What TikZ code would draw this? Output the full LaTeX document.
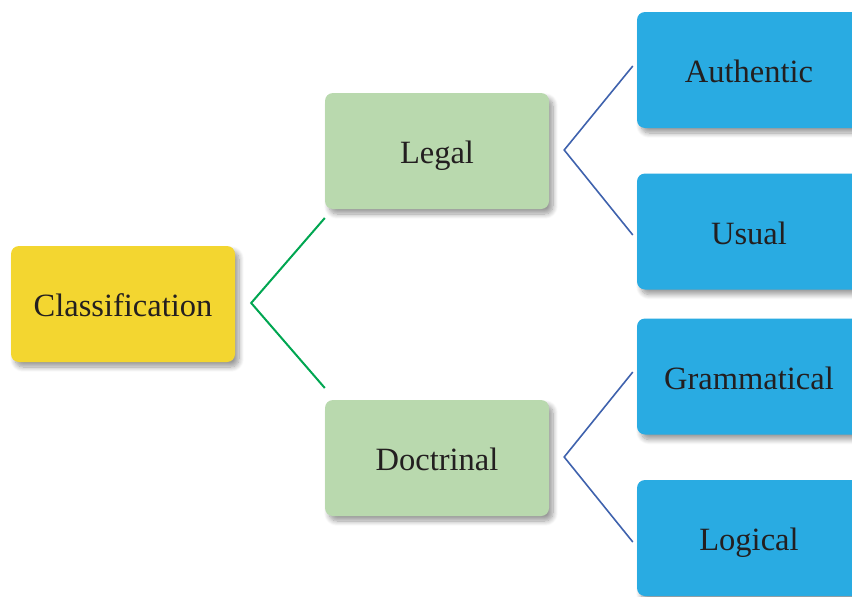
\documentclass[tikz,border=0pt]{standalone}
\usepackage{fontspec}
\setmainfont{Liberation Serif}
\usepackage{xcolor}
\usetikzlibrary{shapes,positioning,calc,shadows.blur}

\definecolor{clsyellow}{HTML}{F3D630}
\definecolor{kindgreen}{HTML}{B9D9AE}
\definecolor{leafblue}{HTML}{29ABE2}
\definecolor{forkgreen}{HTML}{00A651}
\definecolor{forkblue}{HTML}{3F62AD}
\definecolor{txtdark}{HTML}{231F20}

\begin{document}
\begin{tikzpicture}[x=1pt,y=1pt,
  item/.style={rectangle, rounded corners=8pt, minimum width=224pt, minimum height=116pt,
    inner sep=0pt, text=txtdark, font=\fontsize{32.5}{39}\selectfont,
    text height=25pt, text depth=0pt,
    blur shadow={shadow xshift=4pt, shadow yshift=-5pt, shadow blur radius=5pt, shadow blur steps=10, shadow opacity=40}},
  greenfork/.style={draw=forkgreen, line width=2pt},
  bluefork/.style={draw=forkblue, line width=1.6pt}]
\useasboundingbox (0,0) rectangle (852,-597);
\clip (0,0) rectangle (852,-597);
\node[item, fill=clsyellow] (cls) at (123,-304) {Classification};
\node[item, fill=kindgreen, right of=cls, node distance=314pt, yshift=153pt] (leg) {Legal};
\node[item, fill=kindgreen, right of=cls, node distance=314pt, yshift=-154pt] (doc) {Doctrinal};
\node[item, fill=leafblue, right of=leg, node distance=312pt, yshift=81pt] (auth) {Authentic};
\node[item, fill=leafblue, right of=leg, node distance=312pt, yshift=-80.5pt] (usu) {Usual};
\node[item, fill=leafblue, right of=doc, node distance=312pt, yshift=81.5pt] (gram) {Grammatical};
\node[item, fill=leafblue, right of=doc, node distance=312pt, yshift=-80pt] (logi) {Logical};
% fork points and line ends
\coordinate (clsfork) at ($(cls.east)+(16,1)$);
\coordinate (legin) at ($(leg.west)+(0,-67)$);
\coordinate (docin) at ($(doc.west)+(0,70)$);
\coordinate (legfork) at ($(leg.east)+(15,1)$);
\coordinate (docfork) at ($(doc.east)+(15,1)$);
\coordinate (authin) at ($(auth.west)+(-4,4)$);
\coordinate (usuin) at ($(usu.west)+(-4,-3.5)$);
\coordinate (gramin) at ($(gram.west)+(-4,4.5)$);
\coordinate (logiin) at ($(logi.west)+(-4,-4)$);
\draw[greenfork] (legin) -- (clsfork) -- (docin);
\draw[bluefork] (authin) -- (legfork) -- (usuin);
\draw[bluefork] (gramin) -- (docfork) -- (logiin);
\end{tikzpicture}
\end{document}
